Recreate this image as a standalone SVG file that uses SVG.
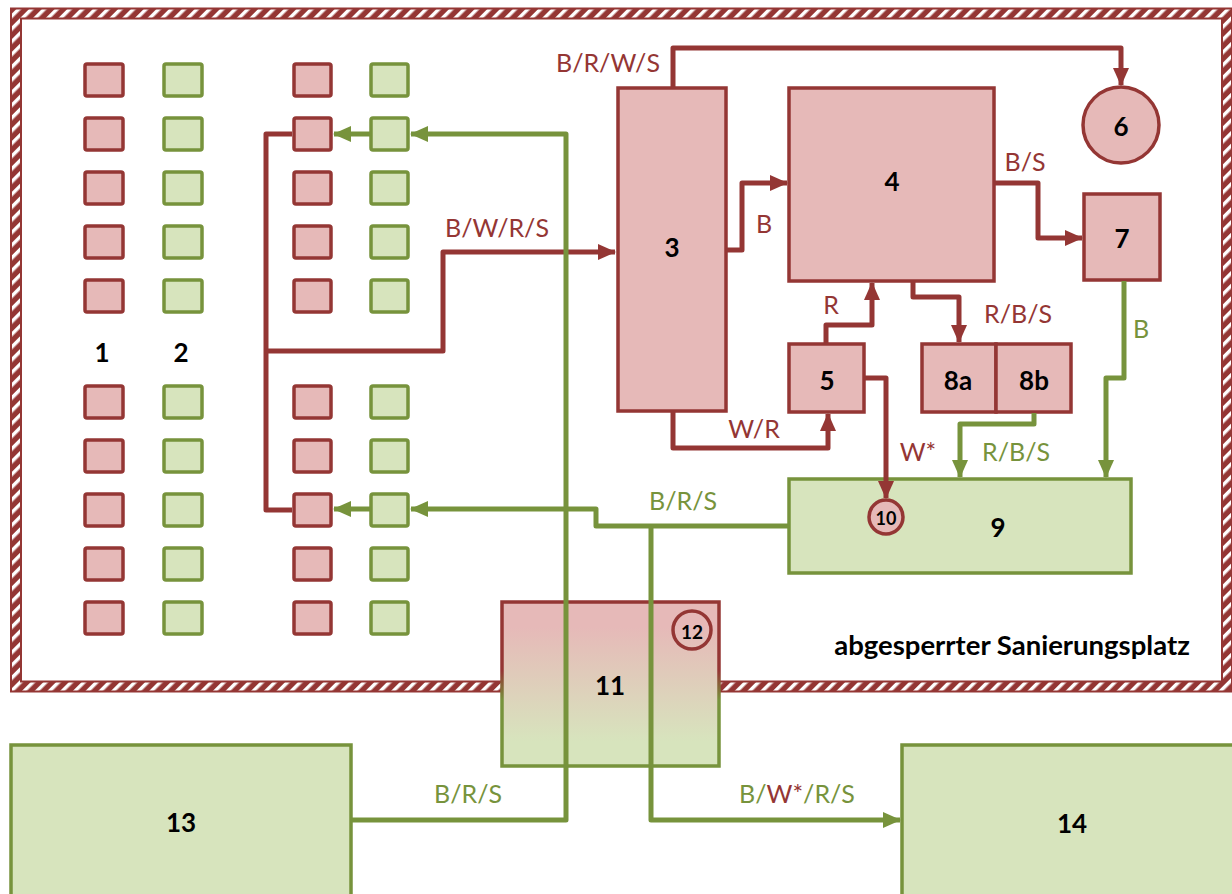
<svg xmlns="http://www.w3.org/2000/svg" width="1232" height="894" viewBox="0 0 1232 894">
<style>
.rn{fill:#E6B9B8;stroke:#943634;stroke-width:3.5}
.gn{fill:#D7E4BD;stroke:#77933C;stroke-width:3.5}
.rc{fill:none;stroke:#943634;stroke-width:5;stroke-linejoin:round}
.gc{fill:none;stroke:#77933C;stroke-width:5;stroke-linejoin:round}
.num{font-family:Lato,"Liberation Sans",sans-serif;font-weight:bold;font-size:26px;fill:#000;text-anchor:middle;dominant-baseline:central}
.lr{font-family:Lato,"Liberation Sans",sans-serif;font-size:25px;fill:#943634;text-anchor:middle}
.lg{font-family:Lato,"Liberation Sans",sans-serif;font-size:25px;fill:#77933C;text-anchor:middle}
</style>
<defs>
<pattern id="hatch" patternUnits="userSpaceOnUse" width="9" height="9" patternTransform="rotate(45)">
<rect width="9" height="9" fill="#943634"/>
<rect width="3.5" height="9" fill="#fff"/>
</pattern>
<marker id="ar" markerUnits="userSpaceOnUse" markerWidth="18" markerHeight="18" viewBox="0 0 18 18" refX="17" refY="9" orient="auto">
<path d="M0,1 L18,9 L0,17 Z" fill="#943634"/>
</marker>
<marker id="ag" markerUnits="userSpaceOnUse" markerWidth="18" markerHeight="18" viewBox="0 0 18 18" refX="17" refY="9" orient="auto">
<path d="M0,1 L18,9 L0,17 Z" fill="#77933C"/>
</marker>
<linearGradient id="g11f" x1="0" y1="0" x2="0" y2="1">
<stop offset="0" stop-color="#E6B9B8"/>
<stop offset="0.15" stop-color="#E6B9B8"/>
<stop offset="0.85" stop-color="#D7E4BD"/>
<stop offset="1" stop-color="#D7E4BD"/>
</linearGradient>
<linearGradient id="g11s" x1="0" y1="0" x2="0" y2="1">
<stop offset="0" stop-color="#943634"/>
<stop offset="0.42" stop-color="#943634"/>
<stop offset="0.6" stop-color="#77933C"/>
<stop offset="1" stop-color="#77933C"/>
</linearGradient>
</defs>

<g id="border">
<rect x="16" y="13.5" width="1211" height="673" fill="none" stroke="url(#hatch)" stroke-width="11"/>
<rect x="11" y="8.5" width="1221" height="683" fill="none" stroke="#943634" stroke-width="2"/>
<rect x="21" y="18.5" width="1201" height="663" fill="none" stroke="#943634" stroke-width="2"/>
</g>

<g id="node1">
<rect class="rn" x="85" y="64" width="38" height="32" rx="2"/>
<rect class="rn" x="85" y="118" width="38" height="32" rx="2"/>
<rect class="rn" x="85" y="172" width="38" height="32" rx="2"/>
<rect class="rn" x="85" y="226" width="38" height="32" rx="2"/>
<rect class="rn" x="85" y="280" width="38" height="32" rx="2"/>
<rect class="rn" x="85" y="386" width="38" height="32" rx="2"/>
<rect class="rn" x="85" y="440" width="38" height="32" rx="2"/>
<rect class="rn" x="85" y="494" width="38" height="32" rx="2"/>
<rect class="rn" x="85" y="548" width="38" height="32" rx="2"/>
<rect class="rn" x="85" y="602" width="38" height="32" rx="2"/>
<text class="num" x="102" y="352">1</text>
</g>
<g id="node2">
<rect class="gn" x="164" y="64" width="38" height="32" rx="2"/>
<rect class="gn" x="164" y="118" width="38" height="32" rx="2"/>
<rect class="gn" x="164" y="172" width="38" height="32" rx="2"/>
<rect class="gn" x="164" y="226" width="38" height="32" rx="2"/>
<rect class="gn" x="164" y="280" width="38" height="32" rx="2"/>
<rect class="gn" x="164" y="386" width="38" height="32" rx="2"/>
<rect class="gn" x="164" y="440" width="38" height="32" rx="2"/>
<rect class="gn" x="164" y="494" width="38" height="32" rx="2"/>
<rect class="gn" x="164" y="548" width="38" height="32" rx="2"/>
<rect class="gn" x="164" y="602" width="38" height="32" rx="2"/>
<text class="num" x="181" y="352">2</text>
</g>
<g id="node1b">
<rect class="rn" x="294" y="64" width="37" height="32" rx="2"/>
<rect class="rn" x="294" y="118" width="37" height="32" rx="2"/>
<rect class="rn" x="294" y="172" width="37" height="32" rx="2"/>
<rect class="rn" x="294" y="226" width="37" height="32" rx="2"/>
<rect class="rn" x="294" y="280" width="37" height="32" rx="2"/>
<rect class="rn" x="294" y="386" width="37" height="32" rx="2"/>
<rect class="rn" x="294" y="440" width="37" height="32" rx="2"/>
<rect class="rn" x="294" y="494" width="37" height="32" rx="2"/>
<rect class="rn" x="294" y="548" width="37" height="32" rx="2"/>
<rect class="rn" x="294" y="602" width="37" height="32" rx="2"/>
</g>
<g id="node2b">
<rect class="gn" x="371" y="64" width="37" height="32" rx="2"/>
<rect class="gn" x="371" y="118" width="37" height="32" rx="2"/>
<rect class="gn" x="371" y="172" width="37" height="32" rx="2"/>
<rect class="gn" x="371" y="226" width="37" height="32" rx="2"/>
<rect class="gn" x="371" y="280" width="37" height="32" rx="2"/>
<rect class="gn" x="371" y="386" width="37" height="32" rx="2"/>
<rect class="gn" x="371" y="440" width="37" height="32" rx="2"/>
<rect class="gn" x="371" y="494" width="37" height="32" rx="2"/>
<rect class="gn" x="371" y="548" width="37" height="32" rx="2"/>
<rect class="gn" x="371" y="602" width="37" height="32" rx="2"/>
</g>

<g id="node3">
<rect class="rn" x="618" y="88" width="108" height="323"/>
<text class="num" x="672" y="247">3</text>
</g>
<g id="node4">
<rect class="rn" x="789" y="88" width="205" height="193"/>
<text class="num" x="892" y="181">4</text>
</g>
<g id="node5">
<rect class="rn" x="789" y="344" width="75" height="68"/>
<text class="num" x="827" y="380">5</text>
</g>
<g id="node6">
<circle class="rn" cx="1121" cy="125" r="38"/>
<text class="num" x="1121" y="126">6</text>
</g>
<g id="node7">
<rect class="rn" x="1084" y="194" width="76" height="86"/>
<text class="num" x="1122" y="238">7</text>
</g>
<g id="node8a">
<rect class="rn" x="922" y="344" width="74" height="68"/>
<text class="num" x="958" y="380">8a</text>
</g>
<g id="node8b">
<rect class="rn" x="996" y="344" width="75" height="68"/>
<text class="num" x="1034" y="380">8b</text>
</g>
<g id="node9">
<rect class="gn" x="789" y="479" width="342" height="94"/>
<text class="num" x="998" y="527">9</text>
</g>
<g id="node10">
<circle class="rn" cx="886" cy="517" r="17" stroke-width="3"/>
<text class="num" x="886" y="518" style="font-size:18px">10</text>
</g>
<g id="node11">
<rect x="502" y="602" width="217" height="164" fill="url(#g11f)" stroke="url(#g11s)" stroke-width="3.5"/>
<text class="num" x="610" y="685">11</text>
</g>
<g id="node12">
<circle cx="692" cy="630" r="19" fill="none" stroke="#943634" stroke-width="3.5"/>
<text class="num" x="692" y="631" style="font-size:19px">12</text>
</g>
<g id="node13">
<rect class="gn" x="11" y="745" width="340" height="160"/>
<text class="num" x="181" y="822">13</text>
</g>
<g id="node14">
<rect class="gn" x="902" y="745" width="340" height="160"/>
<text class="num" x="1072" y="823">14</text>
</g>

<text x="1012" y="655" style="font-family:Lato,'Liberation Sans',sans-serif;font-weight:bold;font-size:27.5px;fill:#000;text-anchor:middle">abgesperrter Sanierungsplatz</text>

<g id="connectors">
<path class="rc" d="M292,134 H266 V510 H292"/>
<path class="rc" d="M266,351 H443 V252 H615" marker-end="url(#ar)"/>
<path class="rc" d="M673,88 V48 H1121 V85" marker-end="url(#ar)"/>
<path class="rc" d="M727,250 H742 V183 H787" marker-end="url(#ar)"/>
<path class="rc" d="M995,183 H1038 V238 H1082" marker-end="url(#ar)"/>
<path class="rc" d="M826,343 V325 H872 V283" marker-end="url(#ar)"/>
<path class="rc" d="M673,412 V448 H828 V414" marker-end="url(#ar)"/>
<path class="rc" d="M913,282 V297 H959 V342" marker-end="url(#ar)"/>
<path class="rc" d="M865,378 H886 V498" marker-end="url(#ar)"/>

<path class="gc" d="M1124,281 V378 H1106 V477" marker-end="url(#ag)"/>
<path class="gc" d="M1034,413 V424 H960 V477" marker-end="url(#ag)"/>
<path class="gc" d="M352,820 H566 V134 H411" marker-end="url(#ag)"/>
<path class="gc" d="M370,134 H334" marker-end="url(#ag)"/>
<path class="gc" d="M788,526 H596 V509 H411" marker-end="url(#ag)"/>
<path class="gc" d="M370,509 H334" marker-end="url(#ag)"/>
<path class="gc" d="M651,526 V820 H900" marker-end="url(#ag)"/>

<text class="lr" x="608" y="72">B/R/W/S</text>
<text class="lr" x="497" y="237">B/W/R/S</text>
<text class="lr" x="764" y="233">B</text>
<text class="lr" x="1025" y="171">B/S</text>
<text class="lr" x="831" y="314">R</text>
<text class="lr" x="1018" y="323">R/B/S</text>
<text class="lr" x="754" y="438">W/R</text>
<text class="lr" x="918" y="461">W*</text>
<text class="lg" x="1141" y="338">B</text>
<text class="lg" x="1016" y="461">R/B/S</text>
<text class="lg" x="683" y="510">B/R/S</text>
<text class="lg" x="468" y="803">B/R/S</text>
<text class="lg" x="797" y="803">B/<tspan fill="#943634">W*</tspan>/R/S</text>
</g>
</svg>
